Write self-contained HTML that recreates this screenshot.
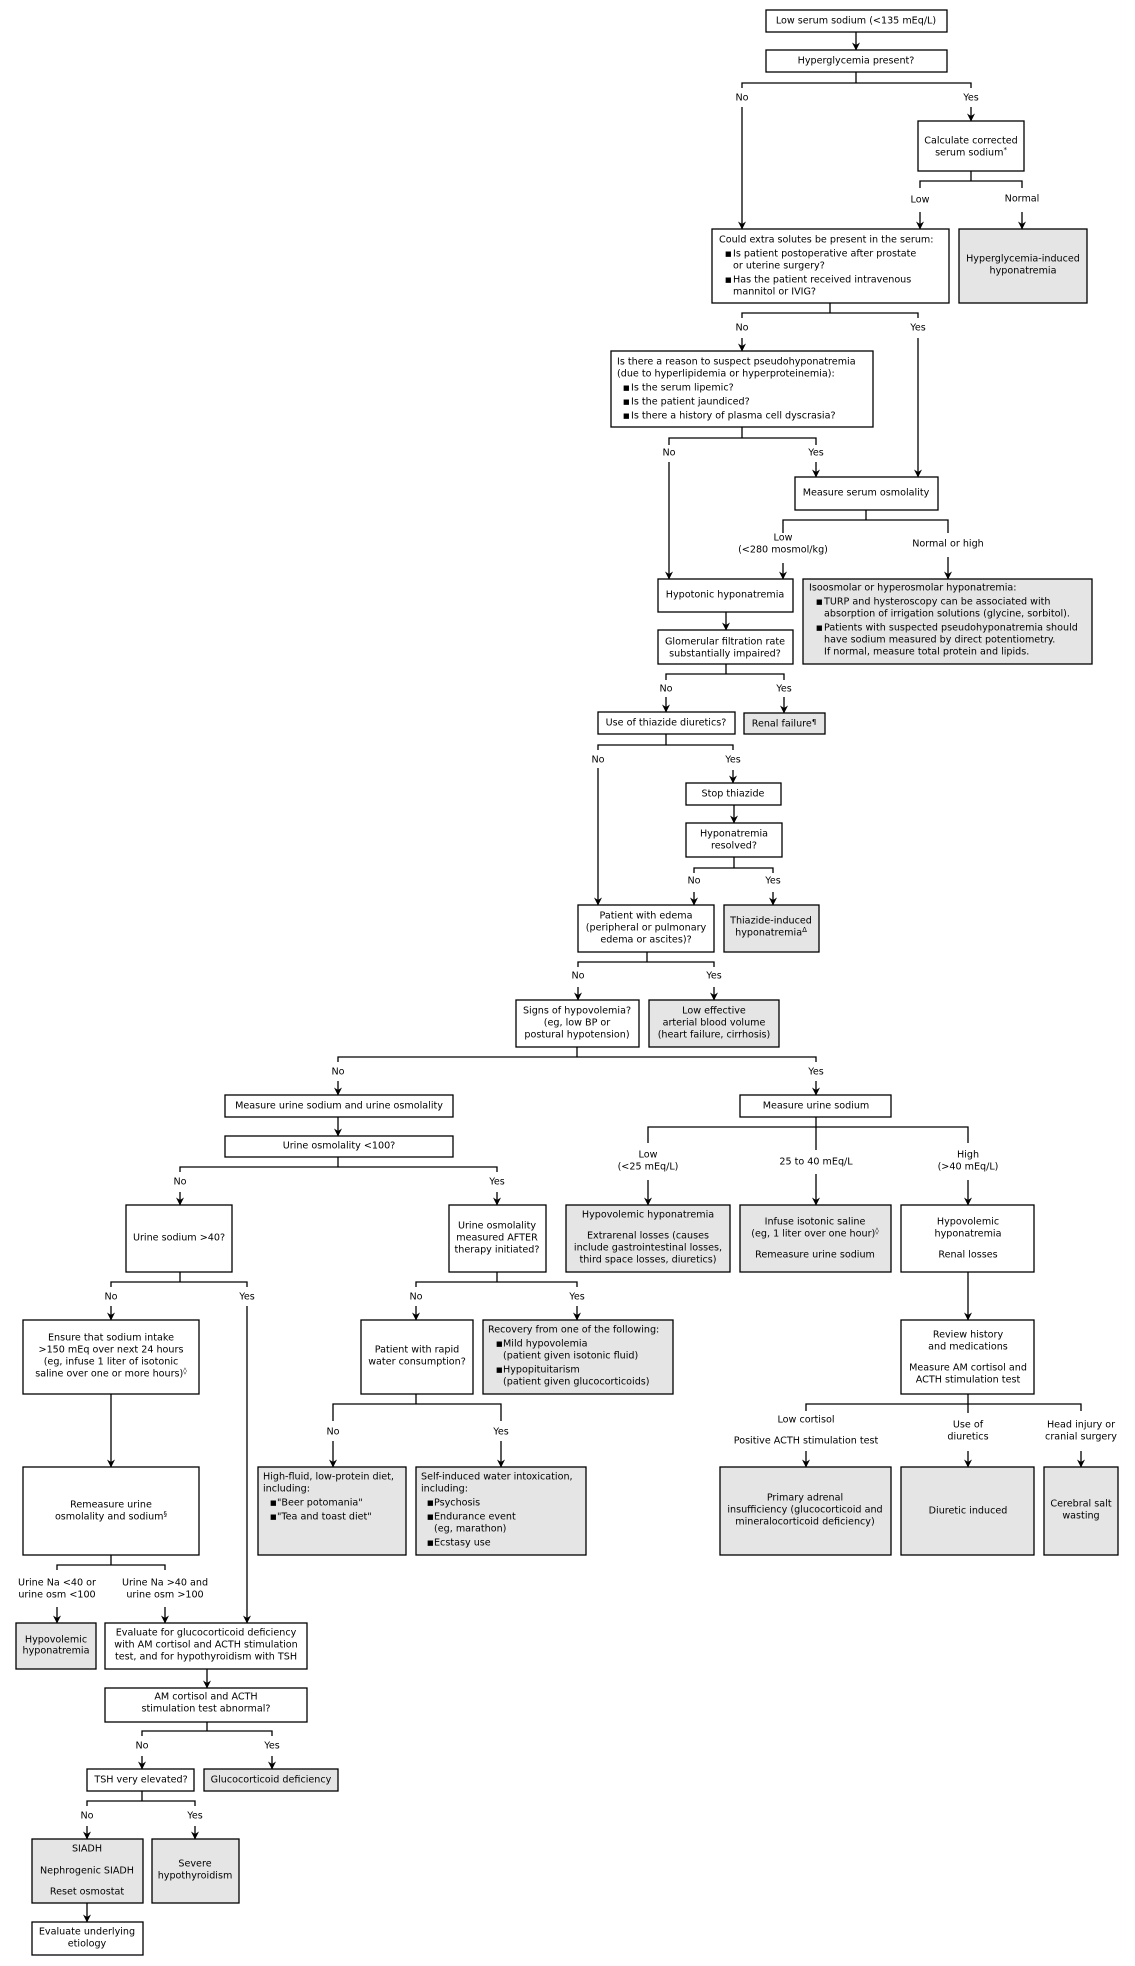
<!DOCTYPE html>
<html><head><meta charset="utf-8"><style>
html,body{margin:0;padding:0;background:#fff;}
svg{display:block;}
text{font-family:"DejaVu Sans","Liberation Sans",sans-serif;font-size:9.6px;fill:#000;dominant-baseline:central;}
.c{text-anchor:middle;}
rect{stroke:#000;stroke-width:1.3;fill:#fff;}
rect.g{fill:#e5e5e5;}
path,line{stroke:#000;stroke-width:1.3;fill:none;}
line.a{marker-end:url(#ah);}
.s{font-size:7px;}
</style></head><body>
<svg width="1135" height="1966" viewBox="0 0 1135 1966" xmlns="http://www.w3.org/2000/svg">
<defs><marker id="ah" markerWidth="8" markerHeight="9" refX="7.5" refY="4.5" orient="auto" markerUnits="userSpaceOnUse"><path d="M0,0.5 L8,4.5 L0,8.5 L2.5,4.5Z" style="fill:#000;stroke:none"/></marker></defs>

<!-- top -->
<rect x="766" y="10" width="181" height="22"/><text class="c" x="856" y="21">Low serum sodium (&lt;135 mEq/L)</text>
<line class="a" x1="856" y1="32" x2="856" y2="50"/>
<rect x="766" y="50" width="181" height="22"/><text class="c" x="856" y="61">Hyperglycemia present?</text>
<path d="M856,72V83M742,88V83H971V88"/>
<text class="c" x="742" y="98">No</text><text class="c" x="971" y="98">Yes</text>
<line class="a" x1="742" y1="107" x2="742" y2="229"/>
<line class="a" x1="971" y1="107" x2="971" y2="121"/>
<rect x="918" y="121" width="106" height="50"/><text class="c" x="971" y="141">Calculate corrected</text><text class="c" x="971" y="153">serum sodium<tspan class="s" dy="-3">*</tspan></text>
<path d="M971,171V181M920,188V181H1022V188"/>
<text class="c" x="920" y="200">Low</text><text class="c" x="1022" y="199">Normal</text>
<line class="a" x1="920" y1="212" x2="920" y2="229"/>
<line class="a" x1="1022" y1="212" x2="1022" y2="229"/>
<rect x="712" y="229" width="237" height="74"/>
<text x="719" y="240">Could extra solutes be present in the serum:</text>
<text x="725" y="254" class="s">■</text><text x="733" y="254">Is patient postoperative after prostate</text>
<text x="733" y="266">or uterine surgery?</text>
<text x="725" y="280" class="s">■</text><text x="733" y="280">Has the patient received intravenous</text>
<text x="733" y="292">mannitol or IVIG?</text>
<rect class="g" x="959" y="229" width="128" height="74"/><text class="c" x="1023" y="259">Hyperglycemia-induced</text><text class="c" x="1023" y="271">hyponatremia</text>
<path d="M830,303V313M742,318V313H918V318"/>
<text class="c" x="742" y="328">No</text><text class="c" x="918" y="328">Yes</text>
<line class="a" x1="742" y1="338" x2="742" y2="351"/>
<line class="a" x1="918" y1="338" x2="918" y2="477"/>
<rect x="611" y="351" width="262" height="76"/>
<text x="617" y="362">Is there a reason to suspect pseudohyponatremia</text>
<text x="617" y="374">(due to hyperlipidemia or hyperproteinemia):</text>
<text x="623" y="388" class="s">■</text><text x="631" y="388">Is the serum lipemic?</text>
<text x="623" y="402" class="s">■</text><text x="631" y="402">Is the patient jaundiced?</text>
<text x="623" y="416" class="s">■</text><text x="631" y="416">Is there a history of plasma cell dyscrasia?</text>
<path d="M742,427V438M669,445V438H816V445"/>
<text class="c" x="669" y="453">No</text><text class="c" x="816" y="453">Yes</text>
<line class="a" x1="669" y1="462" x2="669" y2="579"/>
<line class="a" x1="816" y1="462" x2="816" y2="477"/>
<rect x="795" y="477" width="143" height="33"/><text class="c" x="866" y="493">Measure serum osmolality</text>
<path d="M866,510V520M783,533V520H948V533"/>
<text class="c" x="783" y="538">Low</text><text class="c" x="783" y="550">(&lt;280 mosmol/kg)</text>
<text class="c" x="948" y="544">Normal or high</text>
<line class="a" x1="783" y1="563" x2="783" y2="579"/>
<line class="a" x1="948" y1="557" x2="948" y2="579"/>
<rect x="658" y="579" width="135" height="33"/><text class="c" x="725" y="595">Hypotonic hyponatremia</text>
<rect class="g" x="803" y="579" width="289" height="85"/>
<text x="809" y="588">Isoosmolar or hyperosmolar hyponatremia:</text>
<text x="816" y="602" class="s">■</text><text x="824" y="602">TURP and hysteroscopy can be associated with</text>
<text x="824" y="614">absorption of irrigation solutions (glycine, sorbitol).</text>
<text x="816" y="628" class="s">■</text><text x="824" y="628">Patients with suspected pseudohyponatremia should</text>
<text x="824" y="640">have sodium measured by direct potentiometry.</text>
<text x="824" y="652">If normal, measure total protein and lipids.</text>
<line class="a" x1="726" y1="612" x2="726" y2="630"/>
<rect x="658" y="630" width="135" height="34"/><text class="c" x="725" y="642">Glomerular filtration rate</text><text class="c" x="725" y="654">substantially impaired?</text>
<path d="M726,664V674M666,680V674H784V680"/>
<text class="c" x="666" y="689">No</text><text class="c" x="784" y="689">Yes</text>
<line class="a" x1="666" y1="697" x2="666" y2="712"/>
<line class="a" x1="784" y1="697" x2="784" y2="713"/>
<rect x="598" y="712" width="137" height="22"/><text class="c" x="666" y="723">Use of thiazide diuretics?</text>
<rect class="g" x="744" y="713" width="81" height="21"/><text class="c" x="784" y="724">Renal failure<tspan class="s" dy="-2">¶</tspan></text>
<path d="M666,734V745M598,750V745H733V750"/>
<text class="c" x="598" y="760">No</text><text class="c" x="733" y="760">Yes</text>
<line class="a" x1="733" y1="770" x2="733" y2="783"/>
<line class="a" x1="598" y1="768" x2="598" y2="905"/>
<rect x="686" y="783" width="95" height="22"/><text class="c" x="733" y="794">Stop thiazide</text>
<line class="a" x1="734" y1="805" x2="734" y2="823"/>
<rect x="686" y="823" width="96" height="34"/><text class="c" x="734" y="834">Hyponatremia</text><text class="c" x="734" y="846">resolved?</text>
<path d="M734,857V868M694,873V868H773V873"/>
<text class="c" x="694" y="881">No</text><text class="c" x="773" y="881">Yes</text>
<line class="a" x1="694" y1="892" x2="694" y2="905"/>
<line class="a" x1="773" y1="892" x2="773" y2="905"/>
<rect x="578" y="905" width="136" height="47"/><text class="c" x="646" y="916">Patient with edema</text><text class="c" x="646" y="928">(peripheral or pulmonary</text><text class="c" x="646" y="940">edema or ascites)?</text>
<rect class="g" x="724" y="905" width="95" height="47"/><text class="c" x="771" y="921">Thiazide-induced</text><text class="c" x="771" y="933">hyponatremia<tspan class="s" dy="-3">Δ</tspan></text>
<path d="M647,952V962M578,967V962H714V967"/>
<text class="c" x="578" y="976">No</text><text class="c" x="714" y="976">Yes</text>
<line class="a" x1="578" y1="987" x2="578" y2="1000"/>
<line class="a" x1="714" y1="987" x2="714" y2="1000"/>
<rect x="516" y="1000" width="123" height="47"/><text class="c" x="577" y="1011">Signs of hypovolemia?</text><text class="c" x="577" y="1023">(eg, low BP or</text><text class="c" x="577" y="1035">postural hypotension)</text>
<rect class="g" x="649" y="1000" width="130" height="47"/><text class="c" x="714" y="1011">Low effective</text><text class="c" x="714" y="1023">arterial blood volume</text><text class="c" x="714" y="1035">(heart failure, cirrhosis)</text>
<path d="M577,1047V1057M338,1062V1057H816V1062"/>
<text class="c" x="338" y="1072">No</text><text class="c" x="816" y="1072">Yes</text>
<line class="a" x1="338" y1="1081" x2="338" y2="1095"/>
<line class="a" x1="816" y1="1081" x2="816" y2="1095"/>

<!-- left middle -->
<rect x="225" y="1095" width="228" height="22"/><text class="c" x="339" y="1106">Measure urine sodium and urine osmolality</text>
<line class="a" x1="338" y1="1117" x2="338" y2="1136"/>
<rect x="225" y="1136" width="228" height="21"/><text class="c" x="339" y="1146">Urine osmolality &lt;100?</text>
<path d="M338,1157V1167M180,1172V1167H497V1172"/>
<text class="c" x="180" y="1182">No</text><text class="c" x="497" y="1182">Yes</text>
<line class="a" x1="180" y1="1192" x2="180" y2="1205"/>
<line class="a" x1="497" y1="1192" x2="497" y2="1205"/>
<rect x="126" y="1205" width="106" height="67"/><text class="c" x="179" y="1238">Urine sodium &gt;40?</text>
<rect x="449" y="1205" width="97" height="67"/><text class="c" x="497" y="1226">Urine osmolality</text><text class="c" x="497" y="1238">measured AFTER</text><text class="c" x="497" y="1250">therapy initiated?</text>
<path d="M180,1272V1282M111,1287V1282H247V1287"/>
<text class="c" x="111" y="1297">No</text><text class="c" x="247" y="1297">Yes</text>
<line class="a" x1="111" y1="1306" x2="111" y2="1320"/>
<line class="a" x1="247" y1="1306" x2="247" y2="1623"/>
<rect x="23" y="1320" width="176" height="74"/>
<text class="c" x="111" y="1338">Ensure that sodium intake</text><text class="c" x="111" y="1350">&gt;150 mEq over next 24 hours</text><text class="c" x="111" y="1362">(eg, infuse 1 liter of isotonic</text><text class="c" x="111" y="1374">saline over one or more hours)<tspan class="s" dy="-3">◊</tspan></text>
<line class="a" x1="111" y1="1394" x2="111" y2="1467"/>
<rect x="23" y="1467" width="176" height="88"/><text class="c" x="111" y="1505">Remeasure urine</text><text class="c" x="111" y="1517">osmolality and sodium<tspan class="s" dy="-3">§</tspan></text>
<path d="M497,1272V1282M416,1287V1282H577V1287"/>
<text class="c" x="416" y="1297">No</text><text class="c" x="577" y="1297">Yes</text>
<line class="a" x1="416" y1="1306" x2="416" y2="1320"/>
<line class="a" x1="577" y1="1306" x2="577" y2="1320"/>
<rect x="361" y="1320" width="112" height="74"/><text class="c" x="417" y="1350">Patient with rapid</text><text class="c" x="417" y="1362">water consumption?</text>
<rect class="g" x="483" y="1320" width="190" height="74"/>
<text x="488" y="1330">Recovery from one of the following:</text>
<text x="496" y="1344" class="s">■</text><text x="503" y="1344">Mild hypovolemia</text>
<text x="503" y="1356">(patient given isotonic fluid)</text>
<text x="496" y="1370" class="s">■</text><text x="503" y="1370">Hypopituitarism</text>
<text x="503" y="1382">(patient given glucocorticoids)</text>
<path d="M416,1394V1404M333,1421V1404H501V1421"/>
<text class="c" x="333" y="1432">No</text><text class="c" x="501" y="1432">Yes</text>
<line class="a" x1="333" y1="1441" x2="333" y2="1467"/>
<line class="a" x1="501" y1="1441" x2="501" y2="1467"/>
<rect class="g" x="258" y="1467" width="148" height="88"/>
<text x="263" y="1477">High-fluid, low-protein diet,</text><text x="263" y="1489">including:</text>
<text x="270" y="1503" class="s">■</text><text x="277" y="1503">"Beer potomania"</text>
<text x="270" y="1517" class="s">■</text><text x="277" y="1517">"Tea and toast diet"</text>
<rect class="g" x="416" y="1467" width="170" height="88"/>
<text x="421" y="1477">Self-induced water intoxication,</text><text x="421" y="1489">including:</text>
<text x="427" y="1503" class="s">■</text><text x="434" y="1503">Psychosis</text>
<text x="427" y="1517" class="s">■</text><text x="434" y="1517">Endurance event</text>
<text x="434" y="1529">(eg, marathon)</text>
<text x="427" y="1543" class="s">■</text><text x="434" y="1543">Ecstasy use</text>

<!-- right middle -->
<rect x="740" y="1095" width="151" height="22"/><text class="c" x="816" y="1106">Measure urine sodium</text>
<path d="M816,1117V1150M648,1143V1127H968V1143"/>
<text class="c" x="648" y="1155">Low</text><text class="c" x="648" y="1167">(&lt;25 mEq/L)</text>
<text class="c" x="816" y="1162">25 to 40 mEq/L</text>
<text class="c" x="968" y="1155">High</text><text class="c" x="968" y="1167">(&gt;40 mEq/L)</text>
<line class="a" x1="648" y1="1180" x2="648" y2="1205"/>
<line class="a" x1="816" y1="1174" x2="816" y2="1205"/>
<line class="a" x1="968" y1="1180" x2="968" y2="1205"/>
<rect class="g" x="566" y="1205" width="164" height="67"/><text class="c" x="648" y="1215">Hypovolemic hyponatremia</text><text class="c" x="648" y="1236">Extrarenal losses (causes</text><text class="c" x="648" y="1248">include gastrointestinal losses,</text><text class="c" x="648" y="1260">third space losses, diuretics)</text>
<rect class="g" x="740" y="1205" width="151" height="67"/><text class="c" x="815" y="1222">Infuse isotonic saline</text><text class="c" x="815" y="1234">(eg, 1 liter over one hour)<tspan class="s" dy="-3">◊</tspan></text><text class="c" x="815" y="1255">Remeasure urine sodium</text>
<rect x="901" y="1205" width="133" height="67"/><text class="c" x="968" y="1222">Hypovolemic</text><text class="c" x="968" y="1234">hyponatremia</text><text class="c" x="968" y="1255">Renal losses</text>
<line class="a" x1="968" y1="1272" x2="968" y2="1320"/>
<rect x="901" y="1320" width="133" height="74"/><text class="c" x="968" y="1335">Review history</text><text class="c" x="968" y="1347">and medications</text><text class="c" x="968" y="1368">Measure AM cortisol and</text><text class="c" x="968" y="1380">ACTH stimulation test</text>
<path d="M968,1394V1413M806,1411V1404H1081V1411"/>
<text class="c" x="806" y="1420">Low cortisol</text><text class="c" x="806" y="1441">Positive ACTH stimulation test</text>
<text class="c" x="968" y="1425">Use of</text><text class="c" x="968" y="1437">diuretics</text>
<text class="c" x="1081" y="1425">Head injury or</text><text class="c" x="1081" y="1437">cranial surgery</text>
<line class="a" x1="806" y1="1451" x2="806" y2="1467"/>
<line class="a" x1="968" y1="1451" x2="968" y2="1467"/>
<line class="a" x1="1081" y1="1451" x2="1081" y2="1467"/>
<rect class="g" x="720" y="1467" width="171" height="88"/><text class="c" x="805" y="1498">Primary adrenal</text><text class="c" x="805" y="1510">insufficiency (glucocorticoid and</text><text class="c" x="805" y="1522">mineralocorticoid deficiency)</text>
<rect class="g" x="901" y="1467" width="133" height="88"/><text class="c" x="968" y="1511">Diuretic induced</text>
<rect class="g" x="1044" y="1467" width="74" height="88"/><text class="c" x="1081" y="1504">Cerebral salt</text><text class="c" x="1081" y="1516">wasting</text>

<!-- bottom left -->
<path d="M111,1555V1565M57,1570V1565H165V1570"/>
<text class="c" x="57" y="1583">Urine Na &lt;40 or</text><text class="c" x="57" y="1595">urine osm &lt;100</text>
<text class="c" x="165" y="1583">Urine Na &gt;40 and</text><text class="c" x="165" y="1595">urine osm &gt;100</text>
<line class="a" x1="57" y1="1607" x2="57" y2="1623"/>
<line class="a" x1="165" y1="1607" x2="165" y2="1623"/>
<rect class="g" x="16" y="1623" width="80" height="46"/><text class="c" x="56" y="1640">Hypovolemic</text><text class="c" x="56" y="1651">hyponatremia</text>
<rect x="105" y="1623" width="202" height="46"/><text class="c" x="206" y="1633">Evaluate for glucocorticoid deficiency</text><text class="c" x="206" y="1645">with AM cortisol and ACTH stimulation</text><text class="c" x="206" y="1657">test, and for hypothyroidism with TSH</text>
<line class="a" x1="207" y1="1669" x2="207" y2="1688"/>
<rect x="105" y="1688" width="202" height="34"/><text class="c" x="206" y="1697">AM cortisol and ACTH</text><text class="c" x="206" y="1709">stimulation test abnormal?</text>
<path d="M207,1722V1731M142,1736V1731H272V1736"/>
<text class="c" x="142" y="1746">No</text><text class="c" x="272" y="1746">Yes</text>
<line class="a" x1="142" y1="1756" x2="142" y2="1769"/>
<line class="a" x1="272" y1="1756" x2="272" y2="1769"/>
<rect x="87" y="1769" width="107" height="22"/><text class="c" x="141" y="1780">TSH very elevated?</text>
<rect class="g" x="204" y="1769" width="134" height="22"/><text class="c" x="271" y="1780">Glucocorticoid deficiency</text>
<path d="M142,1791V1801M87,1806V1801H195V1806"/>
<text class="c" x="87" y="1816">No</text><text class="c" x="195" y="1816">Yes</text>
<line class="a" x1="87" y1="1826" x2="87" y2="1839"/>
<line class="a" x1="195" y1="1826" x2="195" y2="1839"/>
<rect class="g" x="32" y="1839" width="111" height="64"/><text class="c" x="87" y="1849">SIADH</text><text class="c" x="87" y="1871">Nephrogenic SIADH</text><text class="c" x="87" y="1892">Reset osmostat</text>
<rect class="g" x="152" y="1839" width="87" height="64"/><text class="c" x="195" y="1864">Severe</text><text class="c" x="195" y="1876">hypothyroidism</text>
<line class="a" x1="87" y1="1903" x2="87" y2="1922"/>
<rect x="32" y="1922" width="111" height="33"/><text class="c" x="87" y="1932">Evaluate underlying</text><text class="c" x="87" y="1944">etiology</text>
</svg>
</body></html>
